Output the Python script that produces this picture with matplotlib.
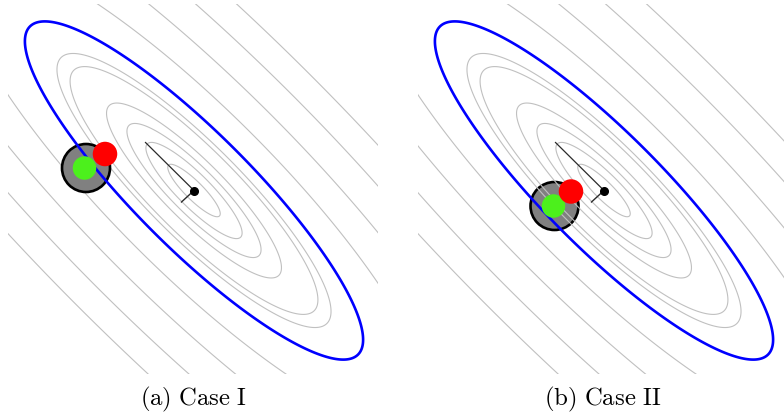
import numpy as np
import matplotlib.pyplot as plt
from matplotlib.patches import Circle

plt.rcParams['mathtext.fontset'] = 'cm'

# quadratic objective, axes rotated 45 deg, major/minor ratio
ratio = 4.0
# contour levels given as semi-minor radius of each ellipse
gray_radii = [0.18, 0.33, 0.46, 0.60, 0.85, 0.94, 1.62, 2.16, 2.74, 3.28]
blue_radius = 1.16

# line from start point to the minimum, and the short stub below it
seg_start = (-0.97, 0.96)
stub_end = (-0.25, -0.23)
minimum = (0.0, 0.0)

# circles per case: centre x, centre y, radius
cases = ['(a)\\ Case\\ I', '(b)\\ Case\\ II']
gray_disc = [(-2.16, 0.45, 0.48), (-0.99, -0.31, 0.48)]
green_pt = [(-2.19, 0.45, 0.235), (-1.01, -0.31, 0.235)]
red_pt = [(-1.78, 0.73, 0.245), (-0.66, -0.02, 0.245)]
disc_on_top = [True, False]

x = np.linspace(-4.5, 4.5, 700)
X, Y = np.meshgrid(x, x)
U = (X - Y) / np.sqrt(2)
V = (X + Y) / np.sqrt(2)
F = (U / ratio) ** 2 + V ** 2

fig = plt.figure(figsize=(7.84, 4.16), dpi=100)
lefts = [8 / 784, 418 / 784]
cap_x = [194 / 784, 603 / 784]

for i in range(2):
    ax = fig.add_axes([lefts[i], 42 / 416, 370 / 784, 370 / 416])
    ax.set_xlim(-3.72, 3.68)
    ax.set_ylim(-3.67, 3.73)
    ax.set_aspect('equal')
    ax.axis('off')

    ax.contour(X, Y, F, levels=[r ** 2 for r in gray_radii],
               colors='#c0c0c0', linewidths=0.8, zorder=2)
    ax.contour(X, Y, F, levels=[blue_radius ** 2], colors='#0000ff',
               linewidths=1.9, zorder=4)

    gz = 3 if disc_on_top[i] else 1
    gx, gy, gr = gray_disc[i]
    ax.add_patch(Circle((gx, gy), gr, facecolor='#808080', edgecolor='black',
                        linewidth=1.9, zorder=gz))
    cx, cy, cr = green_pt[i]
    ax.add_patch(Circle((cx, cy), cr, facecolor='#4cf01c', edgecolor='none', zorder=5))
    rx, ry, rr = red_pt[i]
    ax.add_patch(Circle((rx, ry), rr, facecolor='#ff0000', edgecolor='none', zorder=6))

    ax.plot([seg_start[0], minimum[0]], [seg_start[1], minimum[1]],
            color='#2a2a2a', linewidth=0.9, zorder=7)
    ax.plot([minimum[0], stub_end[0]], [minimum[1], stub_end[1]],
            color='#2a2a2a', linewidth=1.0, zorder=7)
    ax.plot(minimum[0], minimum[1], 'o', color='black', markersize=5.5, zorder=8)

    fig.text(cap_x[i], 17 / 416, '$\\mathrm{' + cases[i] + '}$',
             ha='center', va='center', fontsize=17.8)

fig.savefig('out.png', dpi=100)
